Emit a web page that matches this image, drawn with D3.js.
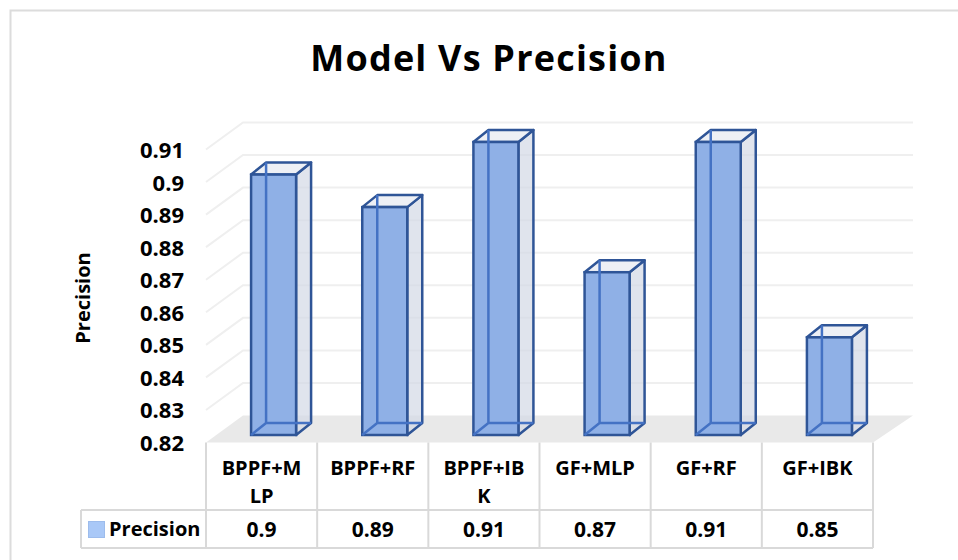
<!DOCTYPE html>
<html>
<head>
<meta charset="utf-8">
<script src="https://cdn.jsdelivr.net/npm/d3@7"></script>
<style>
html, body { margin: 0; padding: 0; background: #fff; }
svg { display: block; }
text { font-family: 'Open Sans', sans-serif; font-weight: 700; fill: #000; }
</style>
</head>
<body>
<div id="chart"></div>
<script>
const categories = ['BPPF+MLP', 'BPPF+RF', 'BPPF+IBK', 'GF+MLP', 'GF+RF', 'GF+IBK'];
const categoryLines = [['BPPF+M', 'LP'], ['BPPF+RF'], ['BPPF+IB', 'K'], ['GF+MLP'], ['GF+RF'], ['GF+IBK']];
const values = [0.9, 0.89, 0.91, 0.87, 0.91, 0.85];
const valueLabels = ['0.9', '0.89', '0.91', '0.87', '0.91', '0.85'];
const yTicks = [0.82, 0.83, 0.84, 0.85, 0.86, 0.87, 0.88, 0.89, 0.9, 0.91];
const seriesName = 'Precision';

const width = 958, height = 560;
const depthX = 37, depthY = 27;      // floor depth
const barDepthX = 15, barDepthY = 12; // bar depth

const svg = d3.select('#chart').append('svg').attr('width', width).attr('height', height);

// chart frame, only top and left show
svg.append('path')
    .attr('d', `M10.5,${height}V10.5H${width}`)
    .attr('fill', 'none').attr('stroke', '#dcdcdc').attr('stroke-width', 2);

svg.append('text')
    .attr('x', 489).attr('y', 71)
    .attr('text-anchor', 'middle')
    .attr('font-size', 36)
    .style('letter-spacing', '1.2px')
    .text('Model Vs Precision');

const x = d3.scaleBand().domain(categories).range([206, 873]);
const y = d3.scaleLinear().domain([0.82, 0.91]).range([442.5, 149.5]);
const barBase = 435; // bars stand a little inside the floor

// floor
svg.append('path')
    .attr('d', `M206,${y(0.82)}L873,${y(0.82)}L913,${y(0.82) - depthY}L243,${y(0.82) - depthY}Z`)
    .attr('fill', '#e9e9e9');

// gridlines
const grid = svg.append('g').attr('fill', 'none').attr('stroke', '#efefef').attr('stroke-width', 2);
yTicks.slice(1).forEach(t => {
    grid.append('path').attr('d', `M206,${y(t)}L243,${y(t) - depthY}L913,${y(t) - depthY}`);
});

// y axis labels
const yAxis = d3.axisLeft(y).tickValues(yTicks).tickSize(0).tickPadding(0).tickFormat(d => d3.format('.2~f')(d));
const yG = svg.append('g').attr('transform', 'translate(184,1)').call(yAxis);
yG.select('.domain').remove();
yG.selectAll('text').attr('font-size', 22).attr('font-family', "'Open Sans', sans-serif");

svg.append('text')
    .attr('transform', 'translate(90,298) rotate(-90)')
    .attr('text-anchor', 'middle')
    .attr('font-size', 20)
    .text(seriesName);

// bars
const barW = 45, barShift = 12, barStroke = 2.5;
const bars = svg.append('g').selectAll('g').data(categories).enter().append('g')
    .attr('transform', d => `translate(${x(d) + (x.bandwidth() - barW) / 2 + barShift},0)`);

function barTop(i) { return barBase - (y(0.82) - y(values[i])); }

// back + side faces first, see-through like the original
bars.each(function (d, i) {
    const g = d3.select(this), t = barTop(i), dx = barDepthX, dy = barDepthY, line = '#2f5597';
    g.append('path') // side
        .attr('d', `M${barW},${t}L${barW + dx},${t - dy}L${barW + dx},${barBase - dy}L${barW},${barBase}Z`)
        .attr('fill', '#d3d8e5').attr('fill-opacity', 0.7).attr('stroke', line).attr('stroke-width', barStroke).attr('stroke-linejoin', 'round');
    g.append('path') // top
        .attr('d', `M0,${t}L${dx},${t - dy}L${barW + dx},${t - dy}L${barW},${t}Z`)
        .attr('fill', '#eef0f5').attr('stroke', line).attr('stroke-width', barStroke).attr('stroke-linejoin', 'round');
    g.append('rect') // front
        .attr('x', 0).attr('y', t).attr('width', barW).attr('height', barBase - t)
        .attr('fill', '#8fb0e6').attr('stroke', line).attr('stroke-width', barStroke);
    g.append('path') // hidden edges seen through the front
        .attr('d', `M${dx},${t - dy}V${barBase - dy}H${barW + dx}M0,${barBase}L${dx},${barBase - dy}`)
        .attr('fill', 'none').attr('stroke', '#4472c4').attr('stroke-width', barStroke);
});

// data table
const rowTop = 442.5, rowMid = 510, rowBot = 548, legendLeft = 81;
const table = svg.append('g').attr('stroke', '#d9d9d9').attr('stroke-width', 2).attr('fill', 'none');
table.append('path').attr('d', `M206,${rowTop}V${rowBot}M${legendLeft},${rowMid}H873M${legendLeft},${rowBot}H873M${legendLeft},${rowMid}V${rowBot}`);
categories.forEach(c => {
    table.append('path').attr('d', `M${x(c) + x.bandwidth()},${rowTop}V${rowBot}`);
});

const labels = svg.append('g').attr('text-anchor', 'middle').attr('font-size', 20);
categories.forEach((c, i) => {
    categoryLines[i].forEach((l, j) => {
        labels.append('text').attr('x', x(c) + x.bandwidth() / 2).attr('y', 475 + j * 28).text(l);
    });
    labels.append('text').attr('x', x(c) + x.bandwidth() / 2).attr('y', 537).attr('font-size', 21).text(valueLabels[i]);
});

// legend
svg.append('rect').attr('x', 88.5).attr('y', 521.5).attr('width', 16).attr('height', 16)
    .attr('fill', '#a9c8f7').attr('stroke', '#9dbcec');
svg.append('text').attr('x', 109).attr('y', 536).attr('font-size', 20).text(seriesName);
</script>
</body>
</html>
